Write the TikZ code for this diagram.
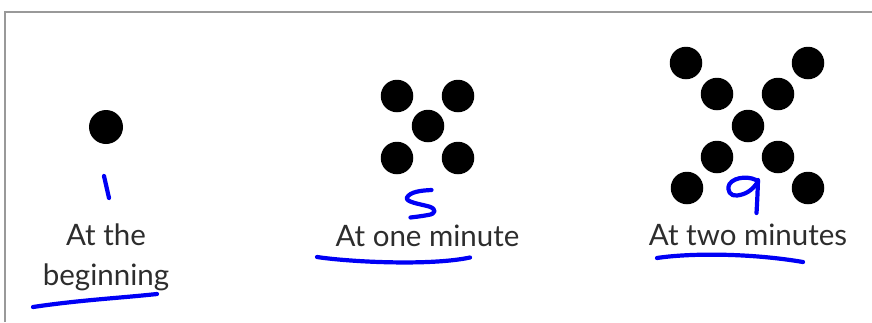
\documentclass[tikz,border=0pt]{standalone}
\usepackage{fontspec}
\setmainfont{Lato}
\definecolor{inkblue}{RGB}{0,0,245}
\definecolor{textgray}{RGB}{45,45,45}
\begin{document}
\begin{tikzpicture}[x=1pt,y=-1pt,
  dot/.style={circle,fill=black,inner sep=0pt,minimum size=32.5pt},
  lbl/.style={anchor=base,inner sep=0pt,text=textgray,font=\fontsize{29.5}{31}\selectfont},
  ink/.style={draw=inkblue,line width=4.2pt,line cap=round,line join=round}]
\useasboundingbox (0,0) rectangle (872,322);
% frame
\draw[gray!80,line width=1.4pt] (5,322) -- (5,12) -- (872,12);
% panel 1
\node[dot,minimum size=34pt] (p1) at (106,127) {};
\node[lbl] (t1a) at (106,245) {At the};
\node[lbl] (t1b) at (106,285) {beginning};
% panel 2
\node[dot] (a1) at (397,96) {};
\node[dot] (a2) at (458,96) {};
\node[dot] (a3) at (428,126) {};
\node[dot] (a4) at (397,158) {};
\node[dot] (a5) at (458,158) {};
\node[lbl] (t2) at (427.5,246) {At one minute};
% panel 3
\node[dot] (b1) at (686,63) {};
\node[dot] (b2) at (808,63) {};
\node[dot] (b3) at (717,94) {};
\node[dot] (b4) at (778,94) {};
\node[dot] (b5) at (748,126) {};
\node[dot] (b6) at (717,157) {};
\node[dot] (b7) at (778,157) {};
\node[dot] (b8) at (687,188) {};
\node[dot] (b9) at (808,188) {};
\node[lbl] (t3) at (748,245) {At two minutes};
% handwriting
\draw[ink] (104,176) -- (109,198);
\draw[ink] (33,307) .. controls (80,300) and (120,298) .. (157,294);
\draw[ink] (431.5,190) .. controls (420,190.5) and (410,192) .. (407,197.5)
  .. controls (405,202) and (420,204) .. (429,206.5)
  .. controls (437,209) and (436,214) .. (428,215)
  .. controls (420,216.5) and (414,217) .. (410.5,217.5);
\draw[ink] (317,257) .. controls (350,262) and (430,266) .. (470,257.5);
\draw[ink] (758,181.5) .. controls (752,176) and (735,176) .. (729.5,184)
  .. controls (726,191) and (731,196.5) .. (737,195.5)
  .. controls (745,194.5) and (752,191) .. (758,181.5);
\draw[ink] (758,180) .. controls (757.5,195) and (757,205) .. (756.5,213);
\draw[ink] (657,258) .. controls (690,253) and (750,253) .. (803,262);
\end{tikzpicture}
\end{document}
